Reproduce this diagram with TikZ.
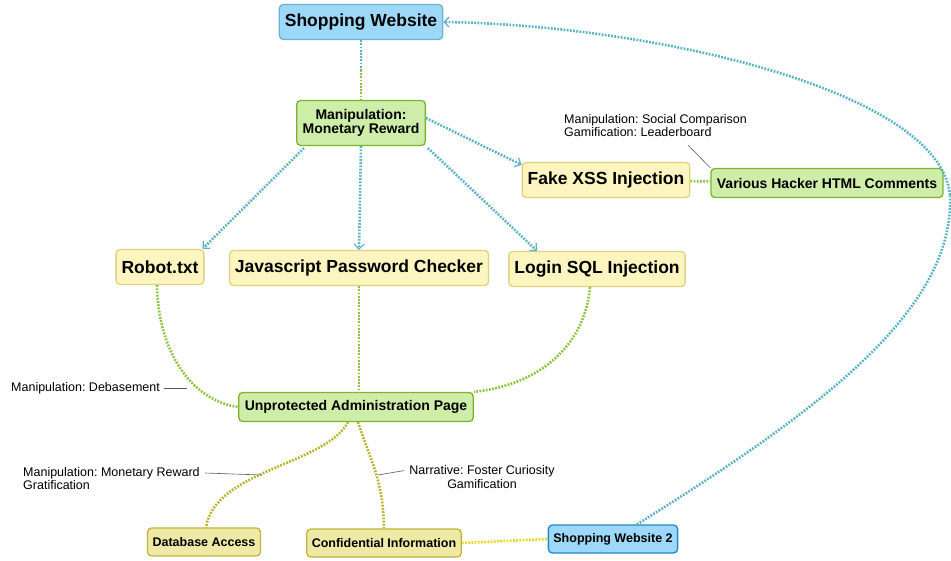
\documentclass[tikz,border=0pt]{standalone}
\usepackage{fontspec}
\setmainfont{Liberation Sans}
\usetikzlibrary{arrows.meta}
\frenchspacing

\definecolor{sitefill}{HTML}{9DD8F9}
\definecolor{siteline}{HTML}{6DB3CB}
\definecolor{sitedark}{HTML}{1E88C8}
\definecolor{mechfill}{HTML}{CDEDA9}
\definecolor{mechline}{HTML}{7AB531}
\definecolor{bugfill}{HTML}{FDF5C0}
\definecolor{bugline}{HTML}{DDD37A}
\definecolor{lootfill}{HTML}{EEE9A5}
\definecolor{lootline}{HTML}{C2B33A}
\definecolor{linkblue}{HTML}{5AB4C6}
\definecolor{linkgreen}{HTML}{8CC43E}
\definecolor{linkolive}{HTML}{B8B42A}
\definecolor{linkyellow}{HTML}{EDD51C}

\tikzset{
  box/.style={draw, rounded corners=4pt, line width=1.3pt, align=center},
  bigbox/.style={box, font=\fontsize{17.5}{19}\selectfont\bfseries, minimum height=35pt, inner xsep=5.5pt},
  smallbox/.style={box, font=\fontsize{14}{13.5}\selectfont\bfseries, minimum height=29pt, inner xsep=6pt},
  tinybox/.style={box, font=\fontsize{12.5}{13}\selectfont\bfseries, minimum height=28pt, inner xsep=5pt},
  site/.style={fill=sitefill, draw=siteline},
  mech/.style={fill=mechfill, draw=mechline},
  bug/.style={fill=bugfill, draw=bugline},
  loot/.style={fill=lootfill, draw=lootline},
  note/.style={font=\fontsize{12.5}{13.3}\selectfont, inner sep=1pt},
  leader/.style={draw=black!65, line width=0.6pt},
  link/.style={line width=2.6pt, dash pattern=on 1.8pt off 1.4pt},
  tip/.style={-{Straight Barb[length=5pt, width=10pt, line width=1.2pt]}}
}

\begin{document}
\begin{tikzpicture}[x=1pt, y=-1pt]
    \useasboundingbox (0,0) rectangle (951,560);

    % top
    \node[bigbox, site] (site) at (361,22) {Shopping Website};
    \node[smallbox, mech, minimum height=45pt] (reward) at (361,123) {Manipulation:\\Monetary Reward};

    % vulnerabilities
    \node[bigbox, bug] (xss) at (606,180) {Fake XSS Injection};
    \node[smallbox, mech] (comments) at (827,183) {Various Hacker HTML Comments};
    \node[bigbox, bug] (robot) at (160,267) {Robot.txt};
    \node[bigbox, bug] (checker) at (359,268) {Javascript Password Checker};
    \node[bigbox, bug] (sqli) at (597,269) {Login SQL Injection};

    % admin and below
    \node[smallbox, mech] (admin) at (356,407) {Unprotected Administration Page};
    \node[tinybox, loot] (database) at (204,542) {Database Access};
    \node[tinybox, loot] (secret) at (384,543) {Confidential Information};
    \node[tinybox, site, draw=sitedark] (site2) at (613,539) {Shopping Website 2};

    % notes
    \node[note, anchor=north west, align=left] (socialnote) at (563,113) {Manipulation: Social Comparison\\Gamification: Leaderboard};
    \node[note, anchor=west] (debasenote) at (10,388) {Manipulation: Debasement};
    \node[note, anchor=north west, align=left] (rewardnote) at (22,466) {Manipulation: Monetary Reward\\Gratification};
    \node[note, align=center] (curiositynote) at (482,477) {Narrative: Foster Curiosity\\Gamification};

    % links from the site
    \path (site.south) -- coordinate (sitemid) (reward.north);
    \draw[link, linkblue] (site.south) -- (sitemid);
    \draw[link, linkgreen] (sitemid) -- (reward.north);
    \draw[link, linkblue, tip] (reward.south west) ++(8,2) -- ([xshift=-2pt]robot.north east);
    \draw[link, linkblue, tip] (reward.south) -- (checker.north);
    \draw[link, linkblue, tip] (reward.south east) ++(2,2) -- ([xshift=-60pt]sqli.north);
    \draw[link, linkblue, tip] ([yshift=5pt]reward.east) -- ([yshift=-3pt]xss.north west);
    \draw[link, linkgreen] (xss) -- (comments);

    % links to the admin page
    \draw[link, linkgreen] ([xshift=-3pt]robot.south) .. controls (158,350) and (190,400) .. (admin.west);
    \draw[link, linkgreen] (checker.south) -- (checker.south |- admin.north);
    \draw[link, linkgreen] ([xshift=-7pt]sqli.south) .. controls (585,345) and (540,385) .. (admin.north east);
    \draw[link, linkolive] ([xshift=-8pt]admin.south) .. controls (325,465) and (215,470) .. ([xshift=2pt]database.north);
    \draw[link, linkolive] ([xshift=2pt]admin.south) .. controls (372,465) and (383,480) .. (secret.north);
    \draw[link, linkyellow] (secret.east) -- (site2.west);

    % back to the first site
    \coordinate (bend) at (950,195);
    \draw[link, linkblue] ([xshift=24pt]site2.north) .. controls (820,410) and (955,310) .. (bend);
    \draw[link, linkblue, tip] (bend) .. controls (940,90) and (650,25) .. (site.east);

    % note leaders
    \coordinate (socialtip) at (688,145);
    \coordinate (debasetip) at (187,388);
    \coordinate (rewardtip) at (262,475);
    \coordinate (curiositytip) at (378,475);
    \draw[leader] (socialtip) -- (comments.north west);
    \draw[leader] ([xshift=3pt]debasenote.east) -- (debasetip);
    \draw[leader] ([xshift=4pt, yshift=-7pt]rewardnote.north east) -- (rewardtip);
    \draw[leader] ([xshift=-4pt, yshift=-6pt]curiositynote.north west) -- (curiositytip);
\end{tikzpicture}
\end{document}
